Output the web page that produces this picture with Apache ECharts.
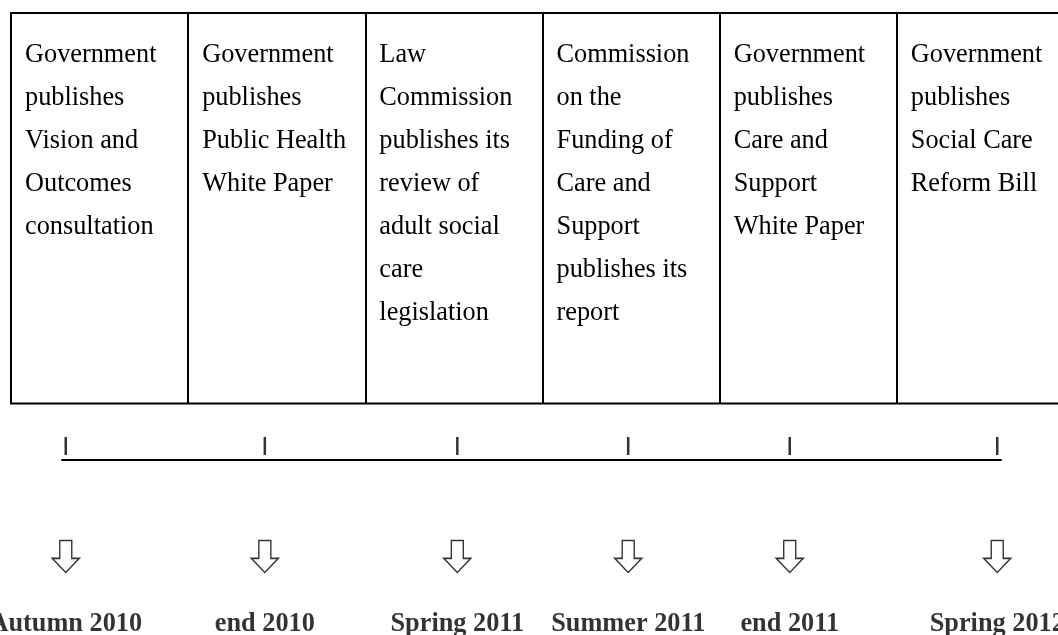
<!DOCTYPE html>
<html>
<head>
<meta charset="utf-8">
<style>
  html, body { margin: 0; padding: 0; background: #ffffff; }
  #chart { width: 1058px; height: 635px; }
</style>
<script src="https://cdn.jsdelivr.net/npm/echarts@6/dist/echarts.min.js"></script>
</head>
<body>
<div id="chart"></div>
<script>
// ---- Data ----
var events = [
  "Government\npublishes\nVision and\nOutcomes\nconsultation",
  "Government\npublishes\nPublic Health\nWhite Paper",
  "Law\nCommission\npublishes its\nreview of\nadult social\ncare\nlegislation",
  "Commission\non the\nFunding of\nCare and\nSupport\npublishes its\nreport",
  "Government\npublishes\nCare and\nSupport\nWhite Paper",
  "Government\npublishes\nSocial Care\nReform Bill"
];
var cellSpan = [1, 1, 1, 1, 1, 1];
var dates = ["Autumn 2010", "end 2010", "Spring 2011", "Summer 2011", "end 2011", "Spring 2012"];
// position of each milestone along the timeline (0 = start of line, 100 = end)
var milestonePos = [0.4, 21.6, 42.1, 60.3, 77.5, 99.6];

// ---- Chart ----
var chart = echarts.init(document.getElementById('chart'), null, { renderer: 'canvas' });
var serif = "'Liberation Serif', 'Times New Roman', serif";
var arrowPath = 'path://M7.5,0 L19.5,0 L19.5,17.6 L27,17.6 L13.5,31.6 L0,17.6 L7.5,17.6 Z';

var option = {
  animation: false,
  backgroundColor: '#ffffff',
  grid: [
    {
      left: 11, top: 13, width: 1063, height: 390.5,
      outerBoundsMode: 'none', containLabel: false,
      show: true, backgroundColor: '#ffffff', borderColor: '#000000', borderWidth: 2
    },
    { left: 62, width: 939, top: 440, height: 19.5, outerBoundsMode: 'none', containLabel: false }
  ],
  xAxis: [
    {
      type: 'category', gridIndex: 0, data: events, boundaryGap: true,
      axisLine: { show: false }, axisTick: { show: false }, axisLabel: { show: false },
      splitLine: { show: true, lineStyle: { color: '#000', width: 2 } }
    },
    {
      type: 'value', gridIndex: 1, min: 0, max: 100,
      axisLine: { show: true, lineStyle: { color: '#000', width: 2 } },
      axisTick: { show: false }, axisLabel: { show: false }, splitLine: { show: false }
    }
  ],
  yAxis: [
    { type: 'value', gridIndex: 0, min: 0, max: 1, show: false },
    { type: 'value', gridIndex: 1, min: 0, max: 1, show: false }
  ],
  series: [
    {
      type: 'bar', xAxisIndex: 0, yAxisIndex: 0,
      data: cellSpan,
      barCategoryGap: '0%',
      silent: true,
      itemStyle: { color: 'rgba(255,255,255,0)' },
      label: {
        show: true,
        position: 'insideTopLeft',
        distance: 0,
        padding: [21, 0, 0, 14],
        color: '#000',
        fontFamily: serif,
        fontSize: 26.3,
        lineHeight: 43,
        align: 'left',
        formatter: function (p) { return events[p.dataIndex]; }
      }
    },
    {
      type: 'scatter', xAxisIndex: 1, yAxisIndex: 1, clip: false, silent: true,
      data: milestonePos.map(function (v) { return [v, 0]; }),
      symbol: 'rect', symbolSize: [2.5, 18], symbolOffset: [0, -13.5],
      itemStyle: { color: '#000' }
    },
    {
      type: 'scatter', xAxisIndex: 1, yAxisIndex: 1, clip: false, silent: true,
      data: milestonePos.map(function (v) { return [v, 0]; }),
      symbol: arrowPath, symbolSize: [27, 32], symbolOffset: [0, 97],
      itemStyle: { color: '#ffffff', borderColor: '#000', borderWidth: 1.5 }
    },
    {
      type: 'scatter', xAxisIndex: 1, yAxisIndex: 1, clip: false, silent: true,
      data: milestonePos.map(function (v) { return [v, 0]; }),
      symbolSize: 1,
      itemStyle: { color: 'rgba(0,0,0,0)' },
      label: {
        show: true,
        position: 'inside',
        offset: [0, 165],
        color: '#000',
        fontFamily: serif,
        fontSize: 26.3,
        fontWeight: 'bold',
        formatter: function (p) { return dates[p.dataIndex]; }
      }
    }
  ]
};
chart.setOption(option);
</script>
</body>
</html>
